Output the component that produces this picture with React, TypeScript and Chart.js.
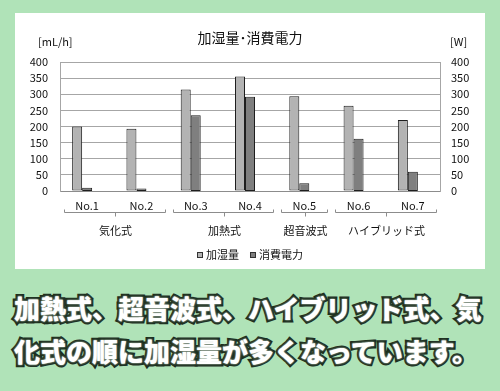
import React, { useEffect, useRef } from "react";
import { Chart, registerables } from "chart.js";

Chart.register(...registerables);

const categories = ["No.1", "No.2", "No.3", "No.4", "No.5", "No.6", "No.7"];
const humidification = [200, 193, 315, 355, 294, 264, 220];
const power = [10, 8, 235, 292, 24, 162, 60];
const spacer = [null, null, null, null, null, null, null];
const groupLabels = ["気化式", "加熱式", "超音波式", "ハイブリッド式"];
const groupFrom = [0, 2, 4, 5];
const groupTo = [1, 3, 4, 6];
const yTicks = [0, 50, 100, 150, 200, 250, 300, 350, 400];
const title = "加湿量･消費電力";
const leftUnit = "[mL/h]";
const rightUnit = "[W]";
const seriesNames = ["加湿量", "消費電力"];
const captionLines = ["加熱式、超音波式、ハイブリッド式、気", "化式の順に加湿量が多くなっています。"];

const FONT = "'Noto Sans CJK JP', 'Noto Sans', sans-serif";

const decorPlugin = {
  id: "decor",
  afterDraw(chart: any) {
    const ctx = chart.ctx;
    const x = chart.scales.x;
    const area = chart.chartArea;
    ctx.save();
    // title
    ctx.fillStyle = "#111";
    ctx.font = `14px ${FONT}`;
    ctx.textAlign = "center";
    ctx.textBaseline = "middle";
    ctx.fillText(title, (area.left + area.right) / 2, 25);
    // units
    ctx.font = `11px ${FONT}`;
    ctx.textAlign = "left";
    ctx.fillText(leftUnit, 23, 29);
    ctx.fillText(rightUnit, 435, 29);
    // brackets and group labels
    const half = (x.getPixelForValue(1) - x.getPixelForValue(0)) / 2;
    ctx.strokeStyle = "#8c8c8c";
    ctx.lineWidth = 1;
    const by = area.bottom + 21.5;
    for (let g = 0; g < groupLabels.length; g++) {
      const x0 = Math.round(x.getPixelForValue(groupFrom[g]) - half + 4) + 0.5;
      const x1 = Math.round(x.getPixelForValue(groupTo[g]) + half - 4) + 0.5;
      const cx = Math.round((x0 + x1) / 2) + 0.5;
      ctx.beginPath();
      ctx.moveTo(x0, by - 3);
      ctx.lineTo(x0, by);
      ctx.lineTo(x1, by);
      ctx.lineTo(x1, by - 3);
      ctx.moveTo(cx, by);
      ctx.lineTo(cx, by + 4);
      ctx.stroke();
      ctx.fillStyle = "#111";
      ctx.textAlign = "center";
      ctx.textBaseline = "middle";
      ctx.fillText(groupLabels[g], cx, area.bottom + 40);
    }
    // legend
    const ds = chart.data.datasets;
    ctx.font = `11px ${FONT}`;
    const box = 6;
    const gapBox = 3;
    const gapItem = 11;
    const widths = seriesNames.map((n) => box + gapBox + ctx.measureText(n).width);
    const total = widths.reduce((a, b) => a + b, 0) + gapItem;
    let lx = Math.round((area.left + area.right) / 2 - total / 2);
    const ly = Math.round(area.bottom + 64);
    for (let i = 0; i < seriesNames.length; i++) {
      ctx.fillStyle = ds[i].backgroundColor;
      ctx.fillRect(lx, ly - box / 2, box, box);
      ctx.strokeStyle = "#333";
      ctx.strokeRect(lx + 0.5, ly - box / 2 + 0.5, box - 1, box - 1);
      ctx.fillStyle = "#111";
      ctx.textAlign = "left";
      ctx.fillText(seriesNames[i], lx + box + gapBox, ly);
      lx += widths[i] + gapItem;
    }
    ctx.restore();
  },
};

function ChartCanvas() {
  const ref = useRef<HTMLCanvasElement | null>(null);
  useEffect(() => {
    if (!ref.current) return;
    const chart = new Chart(ref.current, {
      type: "bar",
      data: {
        labels: categories,
        datasets: [
          {
            label: seriesNames[0],
            data: humidification,
            backgroundColor: "#b3b3b3",
            borderColor: "#1e1e1e",
            borderWidth: 1,
            borderSkipped: false,
            yAxisID: "y",
          },
          {
            label: seriesNames[1],
            data: power,
            backgroundColor: "#7f7f7f",
            borderColor: "#1e1e1e",
            borderWidth: 1,
            borderSkipped: false,
            yAxisID: "y1",
          },
          {
            label: "",
            data: spacer as any,
            backgroundColor: "transparent",
            borderWidth: 0,
            yAxisID: "y",
          },
        ],
      },
      options: {
        responsive: false,
        animation: false,
        layout: { padding: { top: 49, left: 0, right: 0, bottom: 0 } },
        datasets: { bar: { barPercentage: 1, categoryPercentage: 0.5525 } },
        plugins: { legend: { display: false }, tooltip: { enabled: false }, title: { display: false } },
        scales: {
          x: {
            grid: { display: false },
            border: { display: true, color: "#8c8c8c" },
            ticks: { font: { family: FONT, size: 11 }, color: "#111", padding: 0, maxRotation: 0, autoSkip: false },
            afterFit: (s: any) => {
              s.height = 78;
            },
          },
          y: {
            position: "left",
            min: 0,
            max: 400,
            afterBuildTicks: (s: any) => {
              s.ticks = yTicks.map((v) => ({ value: v }));
            },
            grid: { color: "#a6a6a6", drawTicks: false },
            border: { display: true, color: "#a6a6a6" },
            ticks: { font: { family: FONT, size: 11 }, color: "#111", padding: 12, autoSkip: false },
            afterFit: (s: any) => {
              s.width = 45;
            },
          },
          y1: {
            position: "right",
            min: 0,
            max: 400,
            afterBuildTicks: (s: any) => {
              s.ticks = yTicks.map((v) => ({ value: v }));
            },
            grid: { display: false, drawTicks: false },
            border: { display: true, color: "#a6a6a6" },
            ticks: { font: { family: FONT, size: 11 }, color: "#111", padding: 11, autoSkip: false },
            afterFit: (s: any) => {
              s.width = 45;
            },
          },
        },
      },
      plugins: [decorPlugin],
    } as any);
    return () => chart.destroy();
  }, []);
  return <canvas ref={ref} width={470} height={256} style={{ display: "block" }} />;
}

export default function App() {
  return (
    <div
      style={{
        position: "fixed",
        left: 0,
        top: 0,
        width: 500,
        height: 391,
        background: "#b0e3b8",
        overflow: "hidden",
      }}
    >
      <div style={{ position: "absolute", left: 15, top: 13, width: 470, height: 256, background: "#fff" }}>
        <ChartCanvas />
      </div>
      <div
        style={{
          position: "absolute",
          left: 14,
          top: 286,
          width: 490,
          fontFamily: FONT,
          fontWeight: 900,
          fontSize: 26,
          lineHeight: "43px",
          color: "#fff",
          whiteSpace: "nowrap",
          WebkitTextStroke: "5px #1c2e1e",
          paintOrder: "stroke fill",
          textShadow: "0 0 2px #e8f4e8",
        } as any}
      >
        {captionLines.map((l, i) => (
          <div key={i}>{l}</div>
        ))}
      </div>
    </div>
  );
}
